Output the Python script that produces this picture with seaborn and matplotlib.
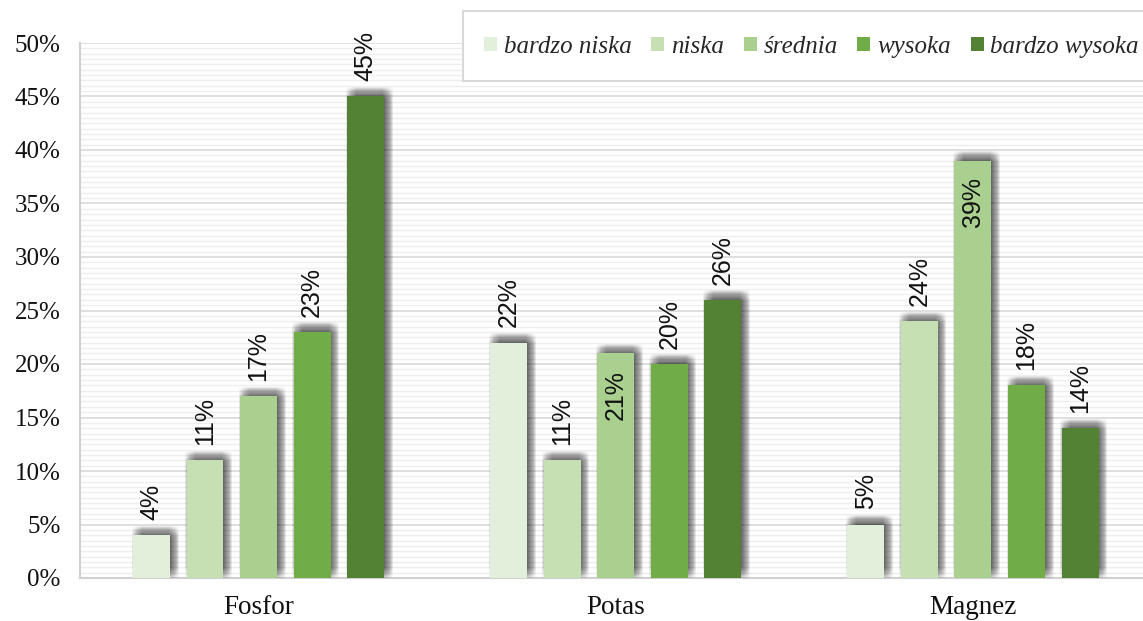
import matplotlib
matplotlib.use("Agg")
import matplotlib.pyplot as plt
import matplotlib.patheffects as pe
from matplotlib.patches import Rectangle
from matplotlib.ticker import MultipleLocator, FuncFormatter
import seaborn as sns
import pandas as pd

# Nutrient content classes per element (share of samples, %)
elements = ["Fosfor", "Potas", "Magnez"]
classes = ["bardzo niska", "niska", "średnia", "wysoka", "bardzo wysoka"]
fosfor = [4, 11, 17, 23, 45]
potas = [22, 11, 21, 20, 26]
magnez = [5, 24, 39, 18, 14]
colors = ["#e2efda", "#c6e0b4", "#a9d08e", "#70ad47", "#548235"]
# values whose labels sit inside the bar top
inside_labels = {("Potas", "średnia"), ("Magnez", "średnia")}

rows = []
for el, vals in zip(elements, [fosfor, potas, magnez]):
    for cl, v in zip(classes, vals):
        rows.append({"element": el, "klasa": cl, "udzial": v})
df = pd.DataFrame(rows)

sns.set_style("white")
plt.rcParams["font.family"] = ["Liberation Serif", "DejaVu Serif"]

fig = plt.figure(figsize=(11.43, 6.21), dpi=100)
W, H = 1143, 621
ax = fig.add_axes([80 / W, 1 - 578 / H, (1151.5 - 80) / W, (578 - 43) / H])

# striped background and major grid
ax.yaxis.set_minor_locator(MultipleLocator(0.5))
ax.yaxis.set_major_locator(MultipleLocator(5))
ax.grid(which="minor", axis="y", color="#eeeeee", lw=1.0, zorder=0)
ax.grid(which="major", axis="y", color="#d9d9d9", lw=1.2, zorder=0)
ax.set_axisbelow(True)

sns.barplot(data=df, x="element", y="udzial", hue="klasa", order=elements,
            hue_order=classes, palette=colors, width=0.75, gap=0.31,
            saturation=1, ax=ax, legend=False, zorder=3)

# soft grey drop shadow up and to the right of each bar
shadow = []
for dx in range(-1, 10):
    for dy in range(-1, 11):
        shadow.append(pe.SimplePatchShadow(offset=(dx * 0.72 - 0.3, dy * 0.72 - 0.3),
                                           shadow_rgbFace="#303030", alpha=0.006))
for p in ax.patches:
    p.set_path_effects(shadow + [pe.Normal()])
    p.set_edgecolor("none")

# value labels
for cont, cl in zip(ax.containers, classes):
    for bar, el in zip(cont, elements):
        v = bar.get_height()
        x = bar.get_x() + bar.get_width() / 2
        inside = (el, cl) in inside_labels
        ax.annotate(f"{v:.0f}%", (x, v), xytext=(0, -12 if inside else 11),
                    textcoords="offset points", rotation=90, ha="center",
                    va="top" if inside else "bottom", fontsize=18,
                    family=["Liberation Sans", "DejaVu Sans"], color="#111111",
                    zorder=5)

ax.set_ylim(0, 50)
ax.set_xlim(-0.5, 2.5)
ax.yaxis.set_major_formatter(FuncFormatter(lambda v, _: f"{v:.0f}%"))
ax.set_xlabel("")
ax.set_ylabel("")
ax.tick_params(axis="y", labelsize=18, length=0, colors="#111111", pad=14)
ax.tick_params(axis="x", labelsize=19.5, length=0, colors="#111111", pad=12)
for s in ["top", "right"]:
    ax.spines[s].set_visible(False)
for s in ["left", "bottom"]:
    ax.spines[s].set_color("#d0d0d0")
    ax.spines[s].set_linewidth(1.5)

# legend box and entries
fig.patches.append(Rectangle((463 / W, 1 - 81 / H), (1150 - 463) / W, 70 / H,
                             transform=fig.transFigure, facecolor="white",
                             edgecolor="#d9d9d9", lw=1.5, zorder=4))
handles = [plt.Rectangle((0, 0), 1, 1, fc=c, ec="none") for c in colors]
leg = fig.legend(handles, classes, loc="center left",
                 bbox_to_anchor=(484 / W, 1 - 47 / H), ncol=5, frameon=False,
                 prop={"family": "Liberation Serif", "style": "italic", "size": 18},
                 handlelength=0.52, handleheight=0.52, handletextpad=0.28,
                 columnspacing=0.78, borderpad=0, borderaxespad=0)
leg.set_zorder(5)

fig.savefig("out.png", dpi=100)
